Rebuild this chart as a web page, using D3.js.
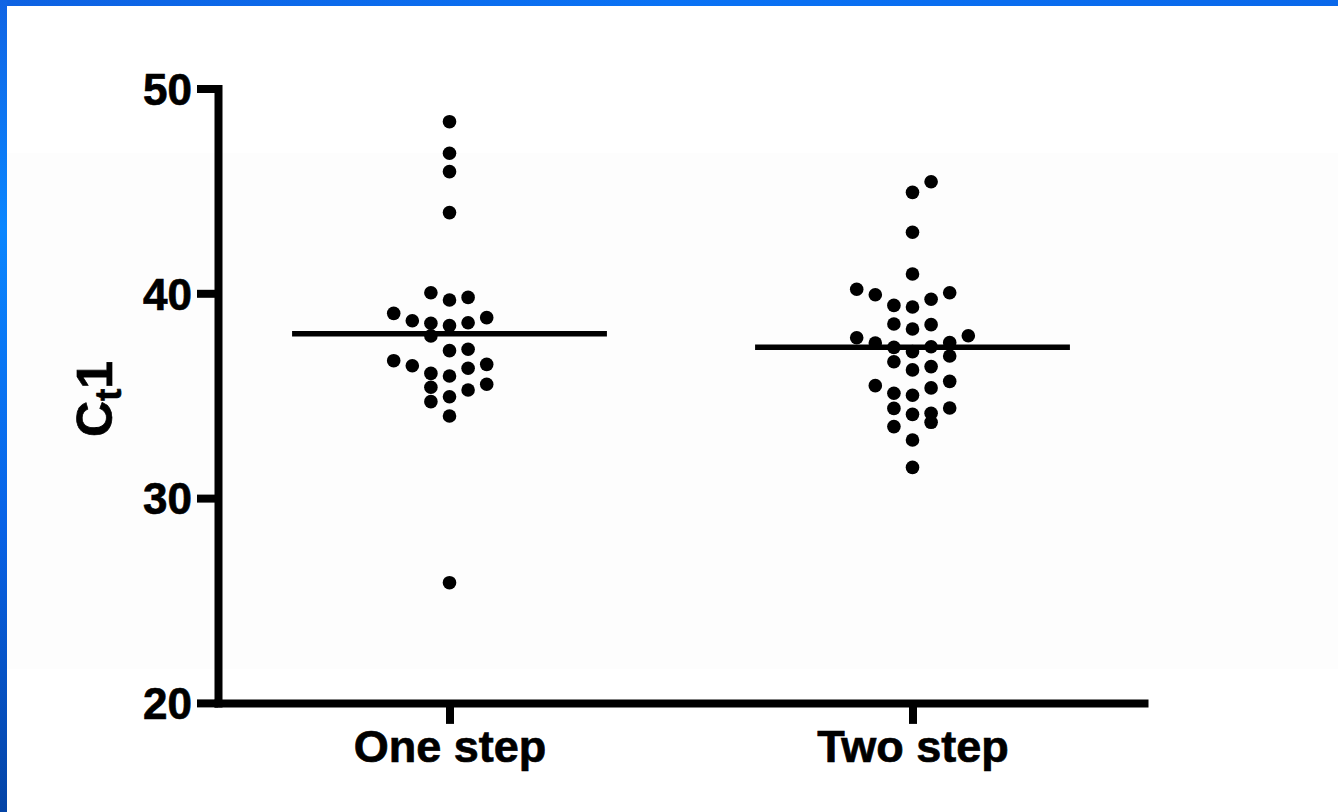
<!DOCTYPE html>
<html>
<head>
<meta charset="utf-8">
<script src="https://cdn.jsdelivr.net/npm/d3@7"></script>
<style>
  body { margin: 0; background: #fff; }
  svg { display: block; }
  text { font-family: 'Liberation Sans', Arial, sans-serif; font-weight: bold; fill: #000; stroke: #000; stroke-width: 0.7px; }
</style>
</head>
<body>
<div id="chart"></div>
<script>
// values
const categories = ['One step', 'Two step']
const oneStep = [
  48.38, 46.84, 45.94, 43.94, 40.03, 39.8, 39.67, 39.02, 38.81, 38.66,
  38.56, 38.54, 38.42, 37.92, 37.27, 37.2, 36.71, 36.53, 36.46, 36.34,
  36.09, 35.96, 35.56, 35.41, 35.28, 34.95, 34.71, 34.01, 25.87,
]
const twoStep = [
  45.45, 44.93, 42.98, 40.94, 40.2, 40.03, 39.93, 39.71, 39.41, 39.33,
  38.5, 38.47, 38.26, 37.93, 37.83, 37.59, 37.57, 37.39, 37.36, 37.15,
  36.94, 36.66, 36.42, 36.26, 35.7, 35.49, 35.38, 35.12, 35.02, 34.4,
  34.38, 34.14, 34.09, 33.7, 33.49, 32.84, 31.5,
]
const medians = [38.03, 37.36]
const yTicks = [20, 30, 40, 50]
const yDomain = [20, 50]

const width = 1338
const height = 812

const svg = d3.select('#chart').append('svg').attr('width', width).attr('height', height)

// slide background + blue frame
svg.append('rect').attr('width', width).attr('height', height).attr('fill', '#ffffff')
svg.append('rect').attr('x', 0).attr('y', 153).attr('width', width).attr('height', 516).attr('fill', '#fdfdfd')

const defs = svg.append('defs')
const leftGrad = defs.append('linearGradient').attr('id', 'leftGrad').attr('x1', 0).attr('y1', 0).attr('x2', 0).attr('y2', 1)
leftGrad.append('stop').attr('offset', '0%').attr('stop-color', '#1064e4')
leftGrad.append('stop').attr('offset', '28%').attr('stop-color', '#0a86ff')
leftGrad.append('stop').attr('offset', '65%').attr('stop-color', '#0862e6')
leftGrad.append('stop').attr('offset', '100%').attr('stop-color', '#0444a6')
const topGrad = defs.append('linearGradient').attr('id', 'topGrad').attr('x1', 0).attr('y1', 0).attr('x2', 1).attr('y2', 0)
topGrad.append('stop').attr('offset', '0%').attr('stop-color', '#0e62e2')
topGrad.append('stop').attr('offset', '50%').attr('stop-color', '#0a72f4')
topGrad.append('stop').attr('offset', '100%').attr('stop-color', '#0a68ea')
svg.append('rect').attr('x', 0).attr('y', 0).attr('width', width).attr('height', 6).attr('fill', 'url(#topGrad)')
svg.append('rect').attr('x', 0).attr('y', 0).attr('width', 7).attr('height', height).attr('fill', 'url(#leftGrad)')

// scales
const x = d3.scalePoint().domain(categories).range([218, 1144]).padding(0.5)
const y = d3.scaleLinear().domain(yDomain).range([702.9, 88.5])

const g = svg.append('g')

// y axis
const yAxis = g
  .append('g')
  .attr('transform', `translate(${x.range()[0]},0)`)
  .call(d3.axisLeft(y).tickValues(yTicks).tickSize(21).tickSizeOuter(0).tickPadding(5).tickFormat(d3.format('d')))
yAxis.select('.domain').attr('stroke', '#000').attr('stroke-width', 8).attr('stroke-linecap', 'square')
yAxis.selectAll('.tick line').attr('stroke', '#000').attr('stroke-width', 8)
yAxis.selectAll('.tick text').style('font-size', '44px').attr('dy', '0.36em')

// x axis
const xAxis = g
  .append('g')
  .attr('transform', `translate(0,${y(yDomain[0])})`)
  .call(d3.axisBottom(x).tickSize(21).tickSizeOuter(0).tickPadding(6))
xAxis.select('.domain').attr('stroke', '#000').attr('stroke-width', 8).attr('stroke-linecap', 'square')
xAxis.selectAll('.tick line').attr('stroke', '#000').attr('stroke-width', 8)
xAxis.selectAll('.tick text').style('font-size', '45px')

// y label  Ct1
const yLab = g.append('text').attr('transform', 'translate(112,399) rotate(-90)').attr('text-anchor', 'middle').style('font-size', '50px')
yLab.append('tspan').text('C')
yLab.append('tspan').attr('dy', 9).style('font-size', '36px').text('t')
yLab.append('tspan').attr('dy', -9).text('1')

// scatter layout: points binned in rows, spread in lanes around the category centre
const laneW = 18.6
const rowH = 22
const binEdge = 39.15

function swarm(values, gi) {
  const rows = d3.group(
    values.slice().sort((a, b) => a - b),
    (v) => Math.floor((y(v) - y(binEdge)) / rowH),
  )
  const out = []
  rows.forEach((vals, k) => {
    const dir = (((k + gi) % 2) + 2) % 2 === 0 ? 1 : -1
    vals.forEach((v, i) => {
      const m = Math.ceil(i / 2)
      const lane = i === 0 ? 0 : (i % 2 === 1 ? -1 : 1) * dir * m
      out.push({ cat: categories[gi], value: v, lane: lane })
    })
  })
  return out
}

const points = [...swarm(oneStep, 0), ...swarm(twoStep, 1)]

g.append('g')
  .selectAll('circle')
  .data(points)
  .join('circle')
  .attr('cx', (d) => x(d.cat) + d.lane * laneW)
  .attr('cy', (d) => y(d.value))
  .attr('r', 6.8)
  .attr('fill', '#000')

// median lines
const halfW = x.step() * 0.34
g.append('g')
  .selectAll('line')
  .data(medians)
  .join('line')
  .attr('x1', (d, i) => x(categories[i]) - halfW)
  .attr('x2', (d, i) => x(categories[i]) + halfW)
  .attr('y1', (d) => y(d))
  .attr('y2', (d) => y(d))
  .attr('stroke', '#000')
  .attr('stroke-width', 5.5)
</script>
</body>
</html>
